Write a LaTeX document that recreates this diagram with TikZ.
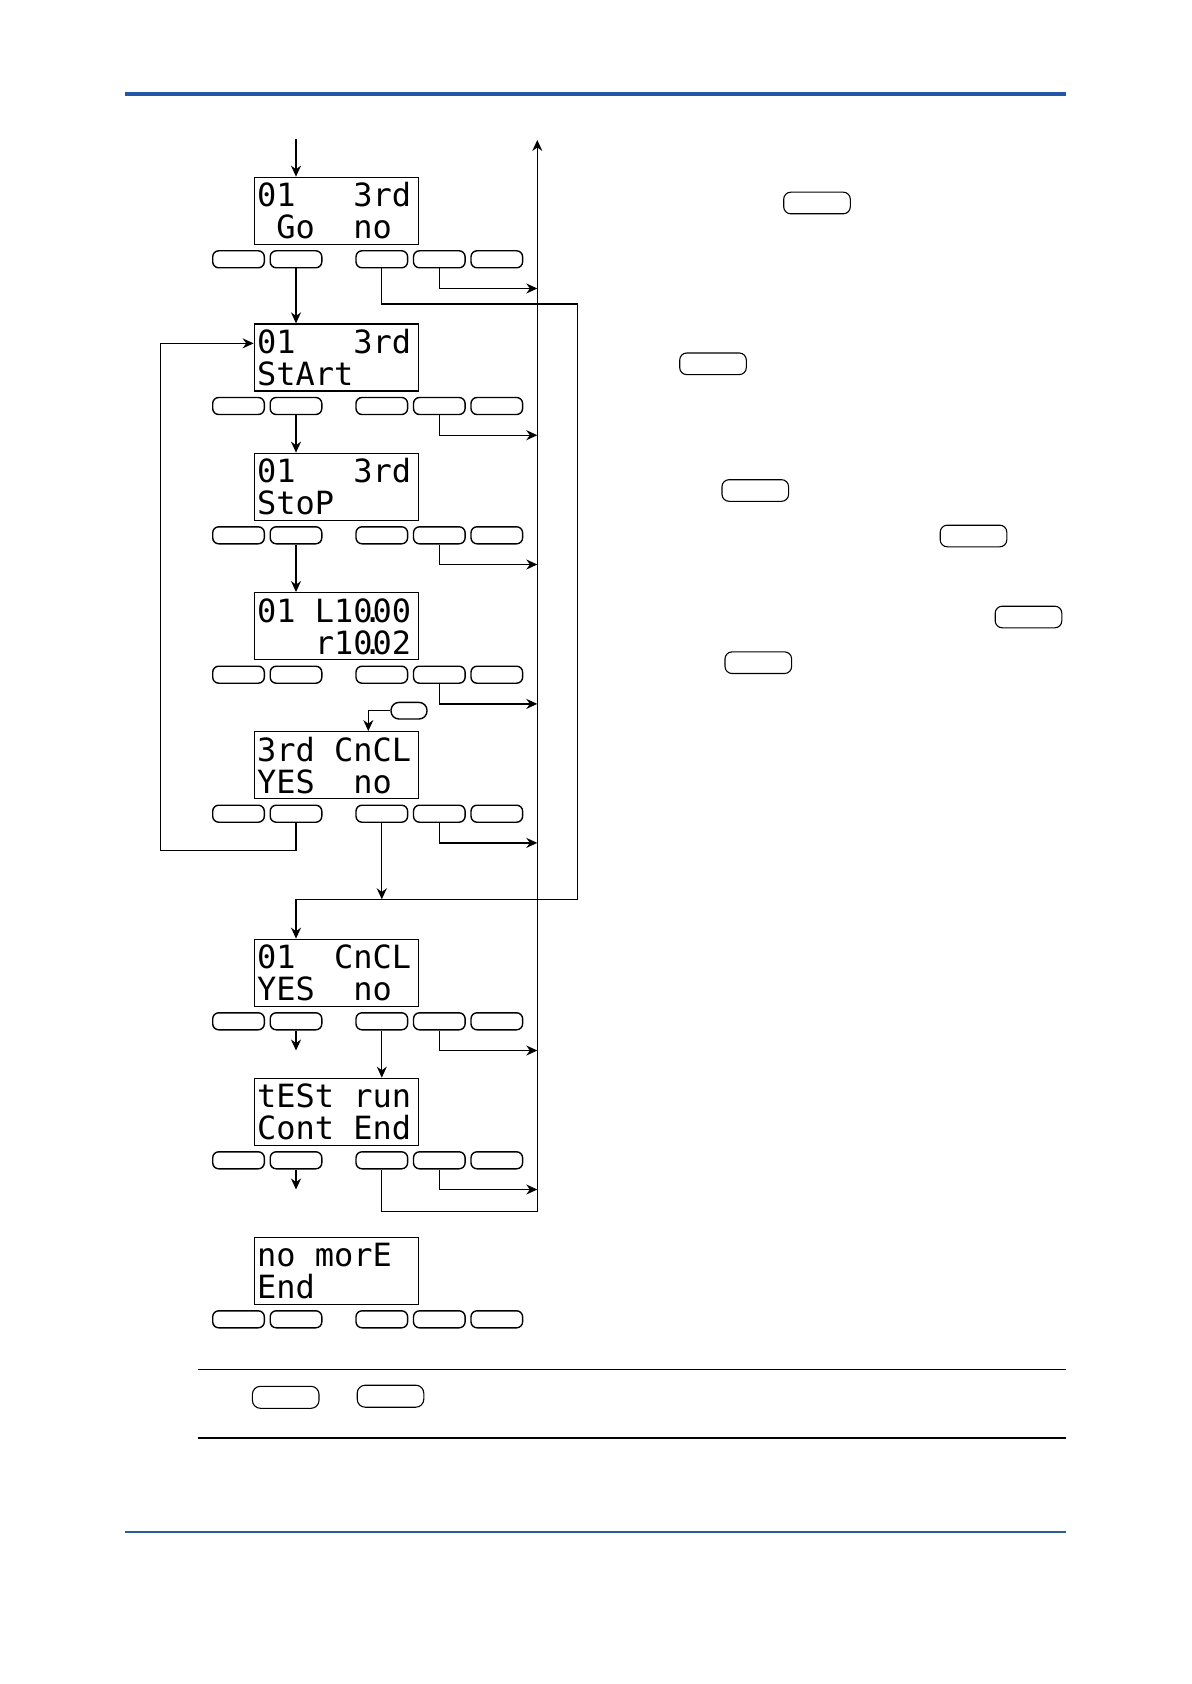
\documentclass[tikz,border=0pt]{standalone}
\usepackage{fontspec}
\usetikzlibrary{arrows.meta,calc}
\newfontfamily\lcdfont{DejaVu Sans Mono}
\definecolor{Hb}{HTML}{2356A6}
\definecolor{Fb}{HTML}{2D5C9C}
\tikzset{
  lcd/.style={rectangle, draw, line width=0.65pt, minimum width=82pt, minimum height=33.5pt, inner sep=0pt},
  lcdtxt/.style={anchor=base west, inner sep=0pt, font=\lcdfont\fontsize{16}{16}\selectfont},
  keyb/.style={rectangle, draw, line width=0.7pt, rounded corners=3pt, minimum width=25.8pt, minimum height=8.5pt, inner sep=0pt},
  keyt/.style={keyb, line width=0.55pt, rounded corners=3.5pt, minimum width=33.3pt, minimum height=10.8pt},
  link/.style={-{Stealth[length=5.5pt, width=5pt]}, line width=0.65pt},
  rule/.style={line width=0.6pt},
}
\newcommand{\panel}[4]{%
  \node[lcd] (#1) at (336.3,#2+33.5) {};
  \node[lcdtxt] (#1a) at ($(#1.north west)+(3,30)$) {#3};
  \node[lcdtxt] (#1b) at ($(#1.north west)+(3,62)$) {#4};
  \foreach \kx [count=\ki] in {238.5,296,381.8,439.3,496.8}
    \node[keyb] (#1k\ki) at (\kx,#2+82) {};}

\begin{document}
\begin{tikzpicture}[x=0.5pt, y=-0.5pt]
  \useasboundingbox (0,0) rectangle (1191,1684);
  \draw[Hb, line width=2pt] (125,93.7) -- (1065.7,93.7);
  \draw[Fb, line width=1.2pt] (125,1532) -- (1065.7,1532);
  % displays
  \panel{p1}{177.3}{01~~~3rd}{~Go~~no}
  \panel{p2}{324}{01~~~3rd}{StArt}
  \panel{p3}{453.3}{01~~~3rd}{StoP}
  \panel{p4}{592.7}{01~L10\makebox[0pt]{.}00}{~~~r10\makebox[0pt]{.}02}
  \panel{p5}{731.7}{3rd~CnCL}{YES~~no}
  \panel{p6}{939.3}{01~~CnCL}{YES~~no}
  \panel{p7}{1078.3}{tESt~run}{Cont~End}
  \panel{p8}{1237.3}{no~morE}{End}
  \node[keyb, minimum width=18pt, minimum height=8.3pt, rounded corners=4pt] (sk) at (409,710.7) {};
  % flow
  \coordinate (in) at (296,139);
  \coordinate (bustop) at (537.3,140);
  \coordinate (busbot) at (537.3,1211.7);
  \coordinate (cr) at (577.3,304);
  \coordinate (cj) at (296,899.3);
  \coordinate (cl) at (160.7,850.3);
  \draw[link] (in) -- (p1.north -| in);
  \draw[link] (p1k2.south) -- (p1k2.south |- p2.north);
  \draw[link] (p2k2.south) -- (p2k2.south |- p3.north);
  \draw[link] (p3k2.south) -- (p3k2.south |- p4.north);
  \draw[link] (sk.west) -| ([xshift=16pt]p5.north);
  \draw[link] (p5k2.south) |- (cl) |- ([yshift=-10pt]p2.north west);
  \draw[link] (p1k3.south) |- (cr) |- (cj) -- (p6.north -| cj);
  \draw[link] (p5k3.south) -- (p5k3.south |- cj);
  \draw[link] (p6k2.south) -- ++(0,20);
  \draw[link] (p7k2.south) -- ++(0,20);
  \draw[link] (p6k3.south) -- (p6k3.south |- p7.north);
  \draw[link] (p7k3.south) |- (busbot) -- (bustop);
  \foreach \p in {1,...,7}
    \draw[link] (p\p k4.south) |- ([yshift=-10pt]p\p k4.south -| bustop);
  % keys in the text
  \foreach \kx/\ky [count=\ki] in {817/203,713/363.8,755.3/490.5,973.5/536,1028.5/617,758.3/662.7}
    \node[keyt] (k\ki) at (\kx,\ky) {};
  \draw[rule] (197.7,1369.3) -- (1066,1369.3);
  \draw[rule] (197.7,1438) -- (1066,1438);
  \node[keyt, minimum height=11pt, rounded corners=4pt] (kA) at (285.7,1397.3) {};
  \node[keyt, minimum height=11pt, rounded corners=4pt] (kB) at (390.5,1396.2) {};
\end{tikzpicture}
\end{document}
